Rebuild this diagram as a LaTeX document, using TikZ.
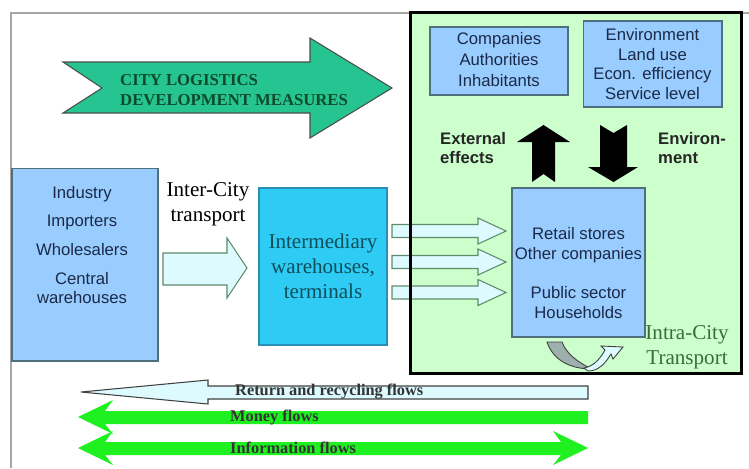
\documentclass[tikz,border=0pt]{standalone}
\usepackage{fontspec}
\setmainfont{Liberation Serif}
\setsansfont{Liberation Sans}
\definecolor{boxblue}{HTML}{99CCFF}
\definecolor{boxedge}{HTML}{4F6F7F}
\definecolor{boxtext}{HTML}{1A2A48}
\definecolor{termcyan}{HTML}{2ECBF5}
\definecolor{termedge}{HTML}{2A8FB5}
\definecolor{termtext}{HTML}{0F4E5A}
\definecolor{panelgreen}{HTML}{CCFFCC}
\definecolor{flowcyan}{HTML}{DDFBFF}
\definecolor{flowedge}{HTML}{5E8C6A}
\definecolor{measure}{HTML}{26C490}
\definecolor{measuretext}{HTML}{0E4A2C}
\definecolor{moneygreen}{HTML}{1FF01F}
\definecolor{intragreen}{HTML}{3A6B3A}
\definecolor{turngrey}{HTML}{9DB0AE}
\tikzset{
   bluebox/.style={draw=boxedge, fill=boxblue, line width=0.6pt, inner sep=0pt},
   sanslabel/.style={font=\sffamily\fontsize{9.5}{11.3}\selectfont, text=boxtext, align=center},
   boldlabel/.style={font=\sffamily\bfseries\fontsize{9.5}{11.3}\selectfont, text=black!85, align=left, anchor=west},
   seriflabel/.style={font=\fontsize{12}{14.2}\selectfont, align=center},
   flowlabel/.style={font=\bfseries\fontsize{9.3}{11}\selectfont, text=black!80, anchor=west},
   lightarrow/.style={draw=flowedge, fill=flowcyan, line width=0.6pt}
}
\begin{document}
\begin{tikzpicture}[x=0.02cm, y=-0.02cm]
   \useasboundingbox (0,0) rectangle (749,468);
   \draw[gray!70, line width=0.6pt] (749,13) -- (11,13) -- (11,468);
   \node[fill=panelgreen, minimum width=6.6cm, minimum height=7.2cm, inner sep=0pt] (city) at (576,193) {};
   \draw[draw=gray!60!black, fill=measure, line width=0.6pt] (63,62) -- (310,62) -- (310,38) -- (392,88)
      -- (310,138) -- (310,113) -- (63,113) -- (102,88) -- cycle;
   \node[font=\bfseries\fontsize{9.5}{11.3}\selectfont, text=measuretext, align=left, anchor=west] (measures) at (114,90)
      {CITY LOGISTICS\\DEVELOPMENT MEASURES};
   \node[bluebox, minimum width=2.76cm, minimum height=1.36cm] (actors) at (499,61)
      {\begin{tabular}{@{}c@{}}\sffamily\fontsize{9.5}{11}\selectfont\color{boxtext}Companies\\
      \sffamily\fontsize{9.5}{11}\selectfont\color{boxtext}Authorities\\
      \sffamily\fontsize{9.5}{11}\selectfont\color{boxtext}Inhabitants\end{tabular}};
   \node[bluebox, minimum width=2.78cm, minimum height=1.72cm] (impacts) at (652.5,64) {};
   \node[sanslabel] (impactstxt) at (impacts.center) {Environment\\Land use\\Econ. efficiency\\Service level};
   \node[boldlabel] (external) at (434,148) {External\\effects};
   \node[boldlabel] (environ) at (652,148) {Environ-\\ment};
   \fill (532,182) -- (543.5,174) -- (555,182) -- (555,142) -- (570,142) -- (543.5,125) -- (517,142)
      -- (532,142) -- cycle;
   \fill (600,125) -- (613.5,133) -- (627,125) -- (627,167) -- (638,167) -- (613.5,182) -- (588,167)
      -- (600,167) -- cycle;
   \node[bluebox, minimum width=2.66cm, minimum height=2.98cm] (retail) at (578.5,262.5) {};
   \node[sanslabel] (retailtxt) at (578.5,273) {Retail stores\\Other companies\\[11.4pt]Public sector\\Households};
   \node[bluebox, minimum width=2.92cm, minimum height=3.86cm] (sources) at (85,264.5) {};
   \node[sanslabel] (sourcestxt) at (82,245) {Industry\\[5pt]Importers\\[5pt]Wholesalers\\[5pt]Central\\warehouses};
   \node[seriflabel] (intercity) at (208,204.5) {Inter-City\\transport};
   \draw[lightarrow] (163,253) -- (227,253) -- (227,238) -- (247,268) -- (227,298) -- (227,285) -- (163,285) -- cycle;
   \node[draw=termedge, fill=termcyan, line width=0.6pt, minimum width=2.56cm, minimum height=3.14cm,
      seriflabel, text=termtext] (terminals) at (323,266.5) {Intermediary\\warehouses,\\terminals};
   \draw[lightarrow] (392,224.5) -- (478,224.5) -- (478,218) -- (506,231) -- (478,244) -- (478,237.5) -- (392,237.5) -- cycle;
   \draw[lightarrow] (392,255.5) -- (478,255.5) -- (478,249) -- (506,262) -- (478,275) -- (478,268.5) -- (392,268.5) -- cycle;
   \draw[lightarrow] (392,286) -- (478,286) -- (478,279.5) -- (506,292.5) -- (478,305.5) -- (478,299) -- (392,299) -- cycle;
   \draw[line width=1.4pt] (city.south west) rectangle (city.north east);
   \node[seriflabel, text=intragreen] (intracity) at (687,347.5) {Intra-City\\Transport};
   \draw[draw=gray!50!black, fill=turngrey, line width=0.5pt] (547,342) .. controls (553,360) and (570,369) .. (592,369)
      .. controls (577,362) and (566,353) .. (562,342) -- cycle;
   \draw[draw=gray!50!black, fill=flowcyan, line width=0.5pt] (584,368) .. controls (595,366) and (601,357) .. (605,350)
      -- (601,346) -- (623,347) -- (613,359) -- (611,354) .. controls (605,364) and (598,371) .. (588,371) -- cycle;
   \draw[draw=gray!50!black, fill=flowcyan, line width=0.6pt] (588,386) -- (208,386) -- (208,380) -- (81,392)
      -- (208,404) -- (208,399) -- (588,399) -- cycle;
   \node[flowlabel] (returns) at (229,392) {Return and recycling flows};
   \fill[moneygreen] (588,411) -- (105,411) -- (113,400) -- (78,417) -- (113,434) -- (105,424) -- (588,424) -- cycle;
   \node[flowlabel] (money) at (224,417) {Money flows};
   \fill[moneygreen] (105,442) -- (561,442) -- (553,431) -- (588,448) -- (553,465) -- (561,455) -- (105,455)
      -- (113,465) -- (78,448) -- (113,431) -- cycle;
   \node[flowlabel] (information) at (224,448) {Information flows};
\end{tikzpicture}
\end{document}
